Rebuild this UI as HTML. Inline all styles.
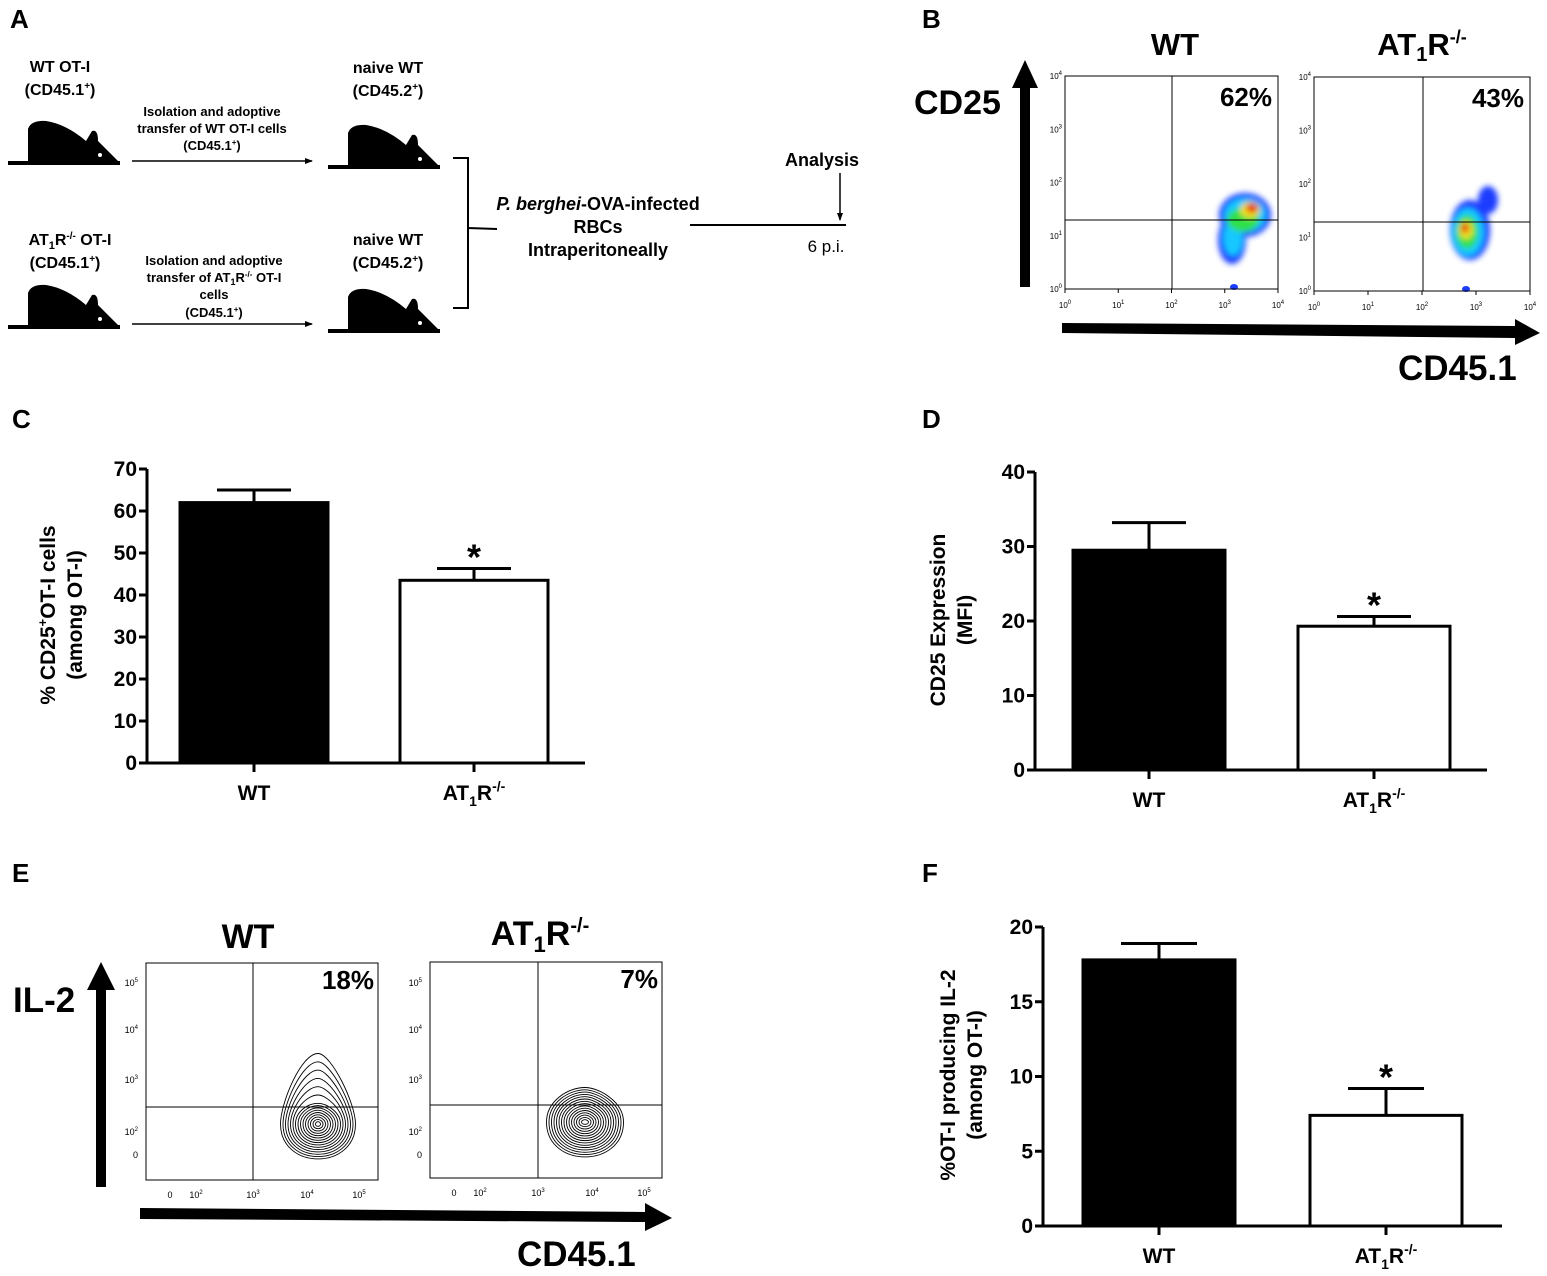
<!DOCTYPE html>
<html><head><meta charset="utf-8">
<style>
html,body{margin:0;padding:0;background:#fff;}
svg{display:block;font-family:"Liberation Sans",Arial,sans-serif;}
.b{font-weight:bold;}
</style></head>
<body>
<svg id="fig" width="1547" height="1276" viewBox="0 0 1547 1276" xmlns="http://www.w3.org/2000/svg">
<defs>
  <g id="mouse">
    <path d="M0,42 L0,8 Q3,-1 18,0 Q38,3 58,20 L64,10 Q70,8 70,20 Q80,30 92,42 Z" fill="#000"/>
    <circle cx="72" cy="34" r="2" fill="#fff"/>
    <rect x="-20" y="40" width="112" height="4" fill="#000"/>
  </g>
  <filter id="blur" x="-50%" y="-50%" width="200%" height="200%"><feGaussianBlur stdDeviation="3"/></filter>
  <marker id="ah" markerWidth="8" markerHeight="8" refX="7" refY="4" orient="auto" markerUnits="userSpaceOnUse"><path d="M0,1 L8,4 L0,7 Z" fill="#000"/></marker>
</defs>

<!-- Panel A -->
<g class="b">
  <text x="10" y="28" font-size="26">A</text>
  <g font-size="16" text-anchor="middle">
    <text x="60" y="72">WT OT-I</text>
    <text x="60" y="95">(CD45.1<tspan font-size="10" dy="-6">+</tspan><tspan dy="6">)</tspan></text>
    <text x="388" y="73">naive WT</text>
    <text x="388" y="96">(CD45.2<tspan font-size="10" dy="-6">+</tspan><tspan dy="6">)</tspan></text>
    <text x="70" y="245">AT<tspan font-size="11" dy="4">1</tspan><tspan dy="-4">R</tspan><tspan font-size="10" dy="-6">-/-</tspan><tspan dy="6"> OT-I</tspan></text>
    <text x="65" y="268">(CD45.1<tspan font-size="10" dy="-6">+</tspan><tspan dy="6">)</tspan></text>
    <text x="388" y="245">naive WT</text>
    <text x="388" y="268">(CD45.2<tspan font-size="10" dy="-6">+</tspan><tspan dy="6">)</tspan></text>
  </g>
  <g font-size="13" text-anchor="middle">
    <text x="212" y="116">Isolation and adoptive</text>
    <text x="212" y="133">transfer of WT OT-I cells</text>
    <text x="212" y="150">(CD45.1<tspan font-size="8" dy="-5">+</tspan><tspan dy="5">)</tspan></text>
  </g>
  <g font-size="13" text-anchor="middle">
    <text x="214" y="265">Isolation and adoptive</text>
    <text x="214" y="282">transfer of AT<tspan font-size="9" dy="3">1</tspan><tspan dy="-3">R</tspan><tspan font-size="8" dy="-5">-/-</tspan><tspan dy="5"> OT-I</tspan></text>
    <text x="214" y="299">cells</text>
    <text x="214" y="317">(CD45.1<tspan font-size="8" dy="-5">+</tspan><tspan dy="5">)</tspan></text>
  </g>
  <use href="#mouse" x="28" y="121"/>
  <use href="#mouse" x="348" y="125"/>
  <use href="#mouse" x="28" y="285"/>
  <use href="#mouse" x="348" y="289"/>
  <line x1="132" y1="161" x2="312" y2="161" stroke="#000" stroke-width="1.5" marker-end="url(#ah)"/>
  <line x1="132" y1="324" x2="312" y2="324" stroke="#000" stroke-width="1.5" marker-end="url(#ah)"/>
  <path d="M453,158 L468,158 L468,308 L453,308 M468,228 L497,229" fill="none" stroke="#000" stroke-width="2"/>
  <g font-size="18" text-anchor="middle">
    <text x="598" y="210"><tspan font-style="italic">P. berghei</tspan>-OVA-infected</text>
    <text x="598" y="233">RBCs</text>
    <text x="598" y="256">Intraperitoneally</text>
  </g>
  <line x1="690" y1="225" x2="846" y2="225" stroke="#000" stroke-width="2"/>
  <text x="822" y="166" font-size="18" text-anchor="middle">Analysis</text>
  <line x1="840" y1="173" x2="840" y2="220" stroke="#000" stroke-width="1.5" marker-end="url(#ah)"/>
  <text x="826" y="252" font-size="17" font-weight="normal" text-anchor="middle">6 p.i.</text>
</g>

<!-- Panel B -->
<g>
  <text x="922" y="28" font-size="26" class="b">B</text>
  <text x="1175" y="55" font-size="31" class="b" text-anchor="middle">WT</text>
  <text x="1422" y="55" font-size="31" class="b" text-anchor="middle">AT<tspan font-size="20" dy="6">1</tspan><tspan dy="-6">R</tspan><tspan font-size="18" dy="-12">-/-</tspan></text>
  <text x="914" y="114" font-size="34" class="b">CD25</text>
  <path d="M1020,287 L1020,88 L1012,88 L1025,60 L1038,88 L1030,88 L1030,287 Z" fill="#000"/>
  <path d="M1062,323 L1515,326 L1515,319 L1540,333 L1515,345 L1515,338 L1062,333 Z" fill="#000"/>
  <text x="1398" y="380" font-size="35" class="b">CD45.1</text>
  <g id="bplots"></g>
</g>

<!-- Panel C -->
<g>
  <text x="12" y="428" font-size="26" class="b">C</text>
  <g id="chartC"></g>
  <g class="b" font-size="21" text-anchor="middle">
    <text transform="translate(55,615) rotate(-90)">%  CD25<tspan font-size="13" dy="-8">+</tspan><tspan dy="8">OT-I cells</tspan></text>
    <text transform="translate(82,615) rotate(-90)">(among OT-I)</text>
  </g>
</g>

<!-- Panel D -->
<g>
  <text x="922" y="428" font-size="26" class="b">D</text>
  <g id="chartD"></g>
  <g class="b" font-size="21" text-anchor="middle">
    <text transform="translate(945,620) rotate(-90)">CD25 Expression</text>
    <text transform="translate(972,620) rotate(-90)">(MFI)</text>
  </g>
</g>

<!-- Panel E -->
<g>
  <text x="12" y="882" font-size="26" class="b">E</text>
  <text x="248" y="948" font-size="34" class="b" text-anchor="middle">WT</text>
  <text x="540" y="945" font-size="34" class="b" text-anchor="middle">AT<tspan font-size="22" dy="7">1</tspan><tspan dy="-7">R</tspan><tspan font-size="20" dy="-13">-/-</tspan></text>
  <text x="13" y="1012" font-size="35" class="b">IL-2</text>
  <path d="M96,1187 L96,990 L87,990 L101,962 L115,990 L106,990 L106,1187 Z" fill="#000"/>
  <path d="M140,1208 L645,1212 L645,1203 L672,1218 L645,1231 L645,1222 L140,1219 Z" fill="#000"/>
  <text x="517" y="1266" font-size="35" class="b">CD45.1</text>
  <g id="eplots"></g>
</g>

<!-- Panel F -->
<g>
  <text x="922" y="882" font-size="26" class="b">F</text>
  <g id="chartF"></g>
  <g class="b" font-size="21" text-anchor="middle">
    <text transform="translate(955,1075) rotate(-90)">%OT-I producing IL-2</text>
    <text transform="translate(982,1075) rotate(-90)">(among OT-I)</text>
  </g>
</g>
</svg>

<script>
const categories = ["WT", "AT1R-/-"];
const cValues = [62, 43.5];
const cErrors = [3, 2.8];
const cTicks = [0, 10, 20, 30, 40, 50, 60, 70];
const dValues = [29.5, 19.3];
const dErrors = [3.7, 1.3];
const dTicks = [0, 10, 20, 30, 40];
const fValues = [17.8, 7.4];
const fErrors = [1.1, 1.8];
const fTicks = [0, 5, 10, 15, 20];
const significant = [false, true];
const bPercents = ["62%", "43%"];
const ePercents = ["18%", "7%"];

const NS = "http://www.w3.org/2000/svg";
function mk(tag, attrs, parent) {
  const e = document.createElementNS(NS, tag);
  for (const k in attrs) e.setAttribute(k, attrs[k]);
  parent.appendChild(e);
  return e;
}

function catLabel(g, x, y, cat) {
  const t = mk("text", {x: x, y: y, "font-size": 21, "font-weight": "bold", "text-anchor": "middle"}, g);
  
  
  if (cat === "WT") { t.textContent = "WT"; return; }
  t.innerHTML = 'AT<tspan font-size="14" dy="6">1</tspan><tspan dy="-6">R</tspan><tspan font-size="14" dy="-9">-/-</tspan>';
}

function barChart(gid, values, errors, ticks, ax) {
  const g = document.getElementById(gid);
  const maxT = ticks[ticks.length - 1];
  const yS = v => ax.y0 - (v / maxT) * (ax.y0 - ax.yTop);
  const ya = mk("line", {x1: ax.x, y1: ax.yTop, x2: ax.x, y2: ax.y0, stroke: "#000", "stroke-width": 3}, g);
  
  
  const xa = mk("line", {x1: ax.x - 6, y1: ax.y0, x2: ax.xEnd, y2: ax.y0, stroke: "#000", "stroke-width": 3}, g);
  
  
  ticks.forEach(t => {
    const y = yS(t);
    const tk = mk("line", {x1: ax.x - 8, y1: y, x2: ax.x, y2: y, stroke: "#000", "stroke-width": 3}, g);
    
    
    const tl = mk("text", {x: ax.x - 10, y: y + 7, "font-size": 21, "font-weight": "bold", "text-anchor": "end"}, g);
    
    
    tl.textContent = t;
  });
  values.forEach((v, i) => {
    const bx = ax.bars[i];
    const cx = bx + ax.bw / 2;
    const top = yS(v);
    const eTop = yS(v + errors[i]);
    const el = mk("line", {x1: cx, y1: eTop, x2: cx, y2: top, stroke: "#000", "stroke-width": 3}, g);
    
    
    const cap = mk("line", {x1: cx - ax.cap, y1: eTop, x2: cx + ax.cap, y2: eTop, stroke: "#000", "stroke-width": 3}, g);
    
    
    const r = mk("rect", {x: bx, y: top, width: ax.bw, height: ax.y0 - top, fill: i === 0 ? "#000" : "#fff", stroke: "#000", "stroke-width": 3}, g);
    
    
    const xt = mk("line", {x1: cx, y1: ax.y0, x2: cx, y2: ax.y0 + 9, stroke: "#000", "stroke-width": 3}, g);
    
    
    catLabel(g, cx, ax.y0 + 37, categories[i]);
    if (significant[i]) {
      const s = mk("text", {x: cx, y: eTop + 1, "font-size": 36, "font-weight": "bold", "text-anchor": "middle"}, g);
      
      
      s.textContent = "*";
    }
  });
}

barChart("chartC", cValues, cErrors, cTicks, {x: 147, yTop: 469, y0: 763, xEnd: 585, bars: [180, 400], bw: 148, cap: 37});
barChart("chartD", dValues, dErrors, dTicks, {x: 1035, yTop: 472, y0: 770, xEnd: 1487, bars: [1073, 1298], bw: 152, cap: 37});
barChart("chartF", fValues, fErrors, fTicks, {x: 1043, yTop: 927, y0: 1226, xEnd: 1502, bars: [1083, 1310], bw: 152, cap: 38});

// Flow plots B
(function () {
  const g = document.getElementById("bplots");
  const boxes = [
    {x: 1065, y: 76, w: 213, h: 213, gx: 1172, gy: 220},
    {x: 1314, y: 77, w: 216, h: 214, gx: 1423, gy: 222}
  ];
  const blobs = [
    [[1245, 215, 26, 22, "#1a3cff"], [1232, 240, 14, 24, "#1a3cff"], [1245, 215, 21, 17, "#19c8ff"], [1233, 238, 10, 18, "#19c8ff"], [1243, 220, 16, 12, "#2fe04a"], [1250, 210, 10, 8, "#f0e020"], [1252, 208, 6, 5, "#e83010"]],
    [[1470, 230, 20, 30, "#1a3cff"], [1488, 200, 10, 14, "#1a3cff"], [1468, 232, 16, 24, "#19c8ff"], [1467, 232, 11, 17, "#2fe04a"], [1466, 230, 7, 9, "#f0e020"], [1465, 228, 4, 5, "#e83010"]]
  ];
  boxes.forEach((b, i) => {
    const bg = mk("g", {}, g);
    
    
    const bl = mk("g", {filter: "url(#blur)"}, bg);
    blobs[i].forEach(e => mk("ellipse", {cx: e[0], cy: e[1], rx: e[2], ry: e[3], fill: e[4]}, bl));
    mk("ellipse", {cx: i === 0 ? 1234 : 1466, cy: b.y + b.h - 2, rx: 4, ry: 3, fill: "#1a3cff"}, bg);
    mk("rect", {x: b.x, y: b.y, width: b.w, height: b.h, fill: "none", stroke: "#000", "stroke-width": 1}, bg);
    mk("line", {x1: b.gx, y1: b.y, x2: b.gx, y2: b.y + b.h, stroke: "#000", "stroke-width": 1}, bg);
    mk("line", {x1: b.x, y1: b.gy, x2: b.x + b.w, y2: b.gy, stroke: "#000", "stroke-width": 1}, bg);
    for (let k = 0; k <= 4; k++) {
      const yy = b.y + b.h - k * b.h / 4;
      const xx = b.x + k * b.w / 4;
      const ly = mk("text", {x: b.x - 3, y: yy + 3, "font-size": 8, "text-anchor": "end"}, bg);
      ly.innerHTML = '10<tspan font-size="6" dy="-4">' + k + '</tspan>';
      const lx = mk("text", {x: xx, y: b.y + b.h + 19, "font-size": 8, "text-anchor": "middle"}, bg);
      lx.innerHTML = '10<tspan font-size="6" dy="-4">' + k + '</tspan>';
      mk("line", {x1: xx, y1: b.y + b.h, x2: xx, y2: b.y + b.h + 4, stroke: "#000"}, bg);
    }
    const pt = mk("text", {x: b.x + b.w - 6, y: b.y + 30, "font-size": 26, "font-weight": "bold", "text-anchor": "end"}, bg);
    
    
    pt.textContent = bPercents[i];
  });
})();

// Contour plots E
(function () {
  const g = document.getElementById("eplots");
  const boxes = [
    {x: 146, y: 963, w: 232, h: 217, gx: 253, gy: 1107, cx: 318, cy: 1124},
    {x: 430, y: 962, w: 232, h: 216, gx: 538, gy: 1105, cx: 585, cy: 1122}
  ];
  boxes.forEach((b, i) => {
    const bg = mk("g", {}, g);
    
    
    mk("rect", {x: b.x, y: b.y, width: b.w, height: b.h, fill: "#fff", stroke: "#000", "stroke-width": 1}, bg);
    for (let k = 15; k >= 1; k--) {
      const rx = k * 2.5 + (i === 0 ? 0 : 1), ry = k * 2.3;
      const top = b.cy - ry - (i === 0 && k > 9 ? (k - 9) * 6 : 0);
      const bot = b.cy + ry;
      const cx = b.cx;
      const d = "M" + (cx - rx) + "," + b.cy +
        " C" + (cx - rx) + "," + (bot + ry * 0.35) + " " + (cx + rx) + "," + (bot + ry * 0.35) + " " + (cx + rx) + "," + b.cy +
        " C" + (cx + rx) + "," + (b.cy - ry * 0.6) + " " + (cx + rx * 0.35) + "," + top + " " + cx + "," + top +
        " C" + (cx - rx * 0.45) + "," + top + " " + (cx - rx) + "," + (b.cy - ry * 0.6) + " " + (cx - rx) + "," + b.cy + " Z";
      mk("path", {d: d, fill: "none", stroke: "#000", "stroke-width": 0.9}, bg);
    }
    mk("line", {x1: b.gx, y1: b.y, x2: b.gx, y2: b.y + b.h, stroke: "#000", "stroke-width": 1}, bg);
    mk("line", {x1: b.x, y1: b.gy, x2: b.x + b.w, y2: b.gy, stroke: "#000", "stroke-width": 1}, bg);
    const ylab = [["10", "5", 983], ["10", "4", 1030], ["10", "3", 1080], ["10", "2", 1132], ["0", "", 1155]];
    ylab.forEach(l => {
      const t = mk("text", {x: b.x - 8, y: l[2] + 3, "font-size": 9, "text-anchor": "end"}, bg);
      t.innerHTML = l[0] + (l[1] ? '<tspan font-size="6" dy="-4">' + l[1] + '</tspan>' : '');
    });
    const xl = [["0", "", 24], ["10", "2", 50], ["10", "3", b.gx - b.x], ["10", "4", b.gx - b.x + 54], ["10", "5", b.gx - b.x + 106]];
    xl.forEach(l => {
      const t = mk("text", {x: b.x + l[2], y: b.y + b.h + 18, "font-size": 9, "text-anchor": "middle"}, bg);
      t.innerHTML = l[0] + (l[1] ? '<tspan font-size="6" dy="-4">' + l[1] + '</tspan>' : '');
    });
    const pt = mk("text", {x: b.x + b.w - 4, y: b.y + 26, "font-size": 26, "font-weight": "bold", "text-anchor": "end"}, bg);
    
    
    pt.textContent = ePercents[i];
  });
})();
</script>
</body></html>
